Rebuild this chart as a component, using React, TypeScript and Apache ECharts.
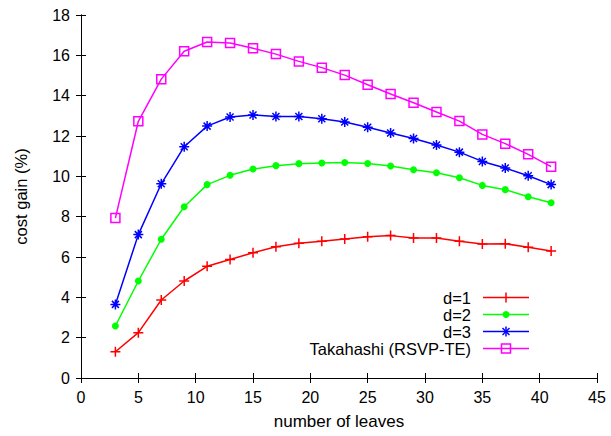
import React, { useEffect, useRef } from "react";
import * as echarts from "echarts";

const leaves = [3, 5, 7, 9, 11, 13, 15, 17, 19, 21, 23, 25, 27, 29, 31, 33, 35, 37, 39, 41];
const d1 = [1.30, 2.25, 3.87, 4.81, 5.54, 5.88, 6.21, 6.51, 6.68, 6.78, 6.89, 7.01, 7.06, 6.94, 6.94, 6.78, 6.64, 6.66, 6.48, 6.30];
const d2 = [2.58, 4.81, 6.88, 8.49, 9.59, 10.05, 10.36, 10.53, 10.63, 10.66, 10.69, 10.64, 10.51, 10.33, 10.18, 9.93, 9.55, 9.34, 8.99, 8.69];
const d3 = [3.65, 7.11, 9.63, 11.47, 12.49, 12.94, 13.04, 12.97, 12.97, 12.86, 12.69, 12.43, 12.15, 11.88, 11.55, 11.20, 10.74, 10.41, 10.03, 9.59];
const takahashi = [7.93, 12.73, 14.82, 16.20, 16.66, 16.61, 16.35, 16.06, 15.70, 15.39, 15.02, 14.54, 14.08, 13.65, 13.19, 12.74, 12.08, 11.62, 11.09, 10.48];

const seriesNames = ["d=1", "d=2", "d=3", "Takahashi (RSVP-TE)"];
const seriesColors = ["#ff0000", "#00ff00", "#0000ff", "#ff00ff"];
const xTitle = "number of leaves";
const yTitle = "cost gain (%)";

const FONT = "'Liberation Sans', Arial, Helvetica, sans-serif";

const SYM_PLUS = "path://M0,5L10,5M5,0L5,10";
const SYM_STAR = "path://M5,0L5,10M0,5L10,5M1.5,1.5L8.5,8.5M1.5,8.5L8.5,1.5";
const SYM_SQUARE = "path://M0,0L10,0L10,10L0,10Z";

export default function App() {
  const ref = useRef<HTMLDivElement>(null);

  useEffect(() => {
    if (!ref.current) return;
    const chart = echarts.init(ref.current, undefined, { renderer: "svg" });

    const pairs = (ys: number[]) => leaves.map((x, i) => [x, ys[i]]);
    const allData = [d1, d2, d3, takahashi];
    const symbols = [SYM_PLUS, "circle", SYM_STAR, SYM_SQUARE];
    const sizes = [10, 7, 10, 9];

    const series = allData.map((ys, i) => {
      const c = seriesColors[i];
      const isCircle = symbols[i] === "circle";
      return {
        type: "line",
        name: seriesNames[i],
        data: pairs(ys),
        symbol: symbols[i],
        symbolSize: sizes[i],
        showAllSymbol: true,
        lineStyle: { color: c, width: 1.5 },
        itemStyle: isCircle
          ? { color: c, borderWidth: 0 }
          : { color: "rgba(0,0,0,0)", borderColor: c, borderWidth: 1.5 },
        emphasis: { disabled: true },
      };
    });

    const legendTextRight = 471;
    const lineX1 = 483;
    const lineX2 = 529;
    const midX = (lineX1 + lineX2) / 2;
    const rowY0 = 297.5;
    const rowStep = 17;
    const graphics: any[] = [];
    seriesNames.forEach((name, i) => {
      const y = rowY0 + i * rowStep;
      const c = seriesColors[i];
      graphics.push({
        type: "text",
        x: legendTextRight,
        y,
        style: { text: name, fill: "#000", font: `16.5px ${FONT}`, align: "right", verticalAlign: "middle" },
      });
      graphics.push({ type: "line", shape: { x1: lineX1, y1: y, x2: lineX2, y2: y }, style: { stroke: c, lineWidth: 1.5 } });
      if (i === 0) {
        graphics.push({ type: "line", shape: { x1: midX, y1: y - 5, x2: midX, y2: y + 5 }, style: { stroke: c, lineWidth: 1.5 } });
      } else if (i === 1) {
        graphics.push({ type: "circle", shape: { cx: midX, cy: y, r: 3.5 }, style: { fill: c } });
      } else if (i === 2) {
        graphics.push({ type: "line", shape: { x1: midX, y1: y - 5, x2: midX, y2: y + 5 }, style: { stroke: c, lineWidth: 1.5 } });
        graphics.push({ type: "line", shape: { x1: midX - 3.5, y1: y - 3.5, x2: midX + 3.5, y2: y + 3.5 }, style: { stroke: c, lineWidth: 1.5 } });
        graphics.push({ type: "line", shape: { x1: midX - 3.5, y1: y + 3.5, x2: midX + 3.5, y2: y - 3.5 }, style: { stroke: c, lineWidth: 1.5 } });
      } else {
        graphics.push({ type: "rect", shape: { x: midX - 4.5, y: y - 4.5, width: 9, height: 9 }, style: { fill: "none", stroke: c, lineWidth: 1.5 } });
      }
    });

    const axisLine = { show: true, lineStyle: { color: "#000", width: 1 } };
    const axisTick = { show: true, inside: true, length: 5, lineStyle: { color: "#000", width: 1 } };
    const labelStyle = { color: "#000", fontSize: 16, fontFamily: FONT };

    chart.setOption({
      animation: false,
      backgroundColor: "#fff",
      textStyle: { fontFamily: FONT },
      grid: { left: 81, right: 14, top: 15, bottom: 58, containLabel: false, outerBoundsMode: "none" },
      xAxis: [
        {
          type: "value", min: 0, max: 45, interval: 5, position: "bottom",
          axisLine, axisTick, splitLine: { show: false },
          axisLabel: { ...labelStyle, margin: 11 },
          name: xTitle, nameLocation: "middle", nameGap: 35,
          nameTextStyle: { color: "#000", fontSize: 17, fontFamily: FONT },
        },
        {
          type: "value", min: 0, max: 45, interval: 5, position: "top",
          axisLine, axisTick, splitLine: { show: false }, axisLabel: { show: false },
        },
      ],
      yAxis: [
        {
          type: "value", min: 0, max: 18, interval: 2, position: "left",
          axisLine, axisTick, splitLine: { show: false },
          axisLabel: { ...labelStyle, margin: 11 },
          name: yTitle, nameLocation: "middle", nameGap: 52, nameRotate: 90,
          nameTextStyle: { color: "#000", fontSize: 16.5, fontFamily: FONT },
        },
        {
          type: "value", min: 0, max: 18, interval: 2, position: "right",
          axisLine, axisTick, splitLine: { show: false }, axisLabel: { show: false },
        },
      ],
      series,
      graphic: graphics,
    });

    return () => chart.dispose();
  }, []);

  return (
    <div ref={ref} style={{ position: "fixed", left: 0, top: 0, width: 611, height: 436, background: "#fff" }} />
  );
}
